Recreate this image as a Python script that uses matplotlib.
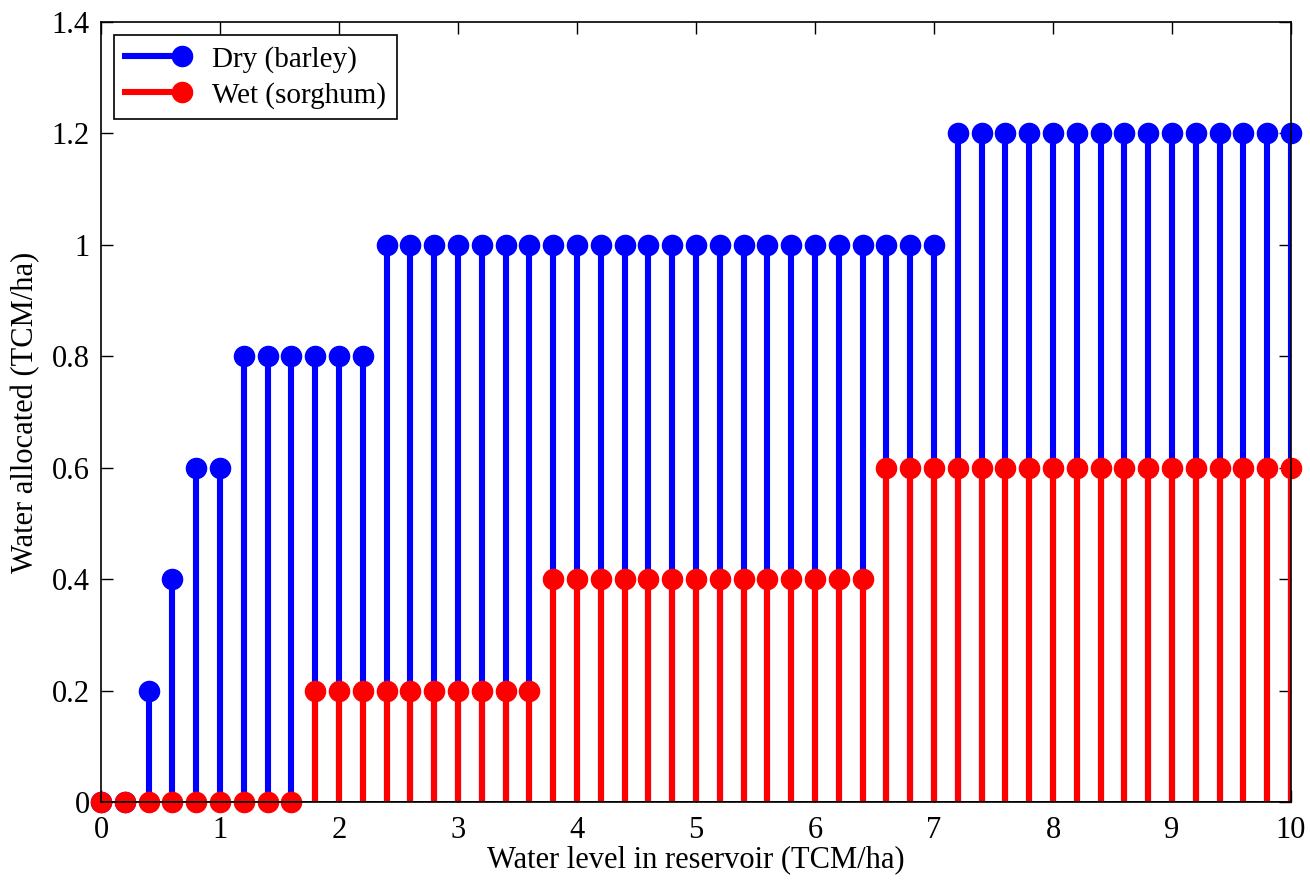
import numpy as np
import matplotlib.pyplot as plt
from matplotlib.lines import Line2D
from matplotlib.legend_handler import HandlerBase

plt.rcParams['font.family'] = ['Liberation Serif', 'DejaVu Serif']

# water level in reservoir, 0 to 10 in 0.2 steps
water_level = [round(0.2 * i, 1) for i in range(51)]

dry_barley = ([0.0, 0.0, 0.2, 0.4, 0.6, 0.6]
              + [0.8] * 6
              + [1.0] * 24
              + [1.2] * 15)
wet_sorghum = ([0.0] * 9
               + [0.2] * 10
               + [0.4] * 14
               + [0.6] * 18)

x_ticks = [0, 1, 2, 3, 4, 5, 6, 7, 8, 9, 10]
y_ticks = [0, 0.2, 0.4, 0.6, 0.8, 1, 1.2, 1.4]
y_tick_labels = ['0', '0.2', '0.4', '0.6', '0.8', '1', '1.2', '1.4']


class StemLegendHandler(HandlerBase):
    # matlab style legend entry: horizontal line with marker at the right end
    def create_artists(self, legend, orig_handle, xdescent, ydescent, width, height, fontsize, trans):
        y = height / 2 - ydescent
        line = Line2D([-xdescent, width - xdescent], [y, y], color=orig_handle.get_color(),
                      lw=orig_handle.get_linewidth(), transform=trans)
        mark = Line2D([width - xdescent], [y], marker='o', color=orig_handle.get_color(),
                      markersize=orig_handle.get_markersize(), linestyle='None', transform=trans)
        return [line, mark]


fig = plt.figure(figsize=(13.1, 8.82), dpi=100)
ax = fig.add_axes([0.0771, 0.0907, 0.9084, 0.8843])

LW = 4.4
MS = 14.5
FS = 22
for vals, col in [(dry_barley, 'blue'), (wet_sorghum, 'red')]:
    markers, stems, base = ax.stem(water_level, vals)
    stems.set_color(col)
    stems.set_linewidth(LW)
    markers.set_color(col)
    markers.set_markersize(MS)
    markers.set_markerfacecolor(col)
    markers.set_markeredgecolor(col)
    markers.set_clip_on(False)
    base.set_color('black')
    base.set_linewidth(1.2)

ax.set_xlim(0, 10)
ax.set_ylim(0, 1.4)
ax.set_xticks(x_ticks)
ax.set_yticks(y_ticks)
ax.set_yticklabels(y_tick_labels)
ax.tick_params(direction='in', length=8.5, width=1, top=True, right=True, labelsize=FS)
ax.tick_params(axis='x', pad=10)
ax.tick_params(axis='y', pad=8)
for sp in ax.spines.values():
    sp.set_linewidth(1.2)

ax.set_xlabel('Water level in reservoir (TCM/ha)', fontsize=FS, labelpad=0)
ax.set_ylabel('Water allocated (TCM/ha)', fontsize=FS, labelpad=8)

h_dry = Line2D([], [], color='blue', lw=LW, marker='o', markersize=MS)
h_wet = Line2D([], [], color='red', lw=LW, marker='o', markersize=MS)
leg = ax.legend([h_dry, h_wet], ['Dry (barley)', 'Wet (sorghum)'], loc='upper left',
                handler_map={Line2D: StemLegendHandler()}, fontsize=21, fancybox=False,
                framealpha=1, edgecolor='black', borderaxespad=0.45, handlelength=1.95,
                labelspacing=0.32, borderpad=0.36, handletextpad=1.05)
leg.get_frame().set_linewidth(1.2)

fig.savefig('out.png', dpi=100)
